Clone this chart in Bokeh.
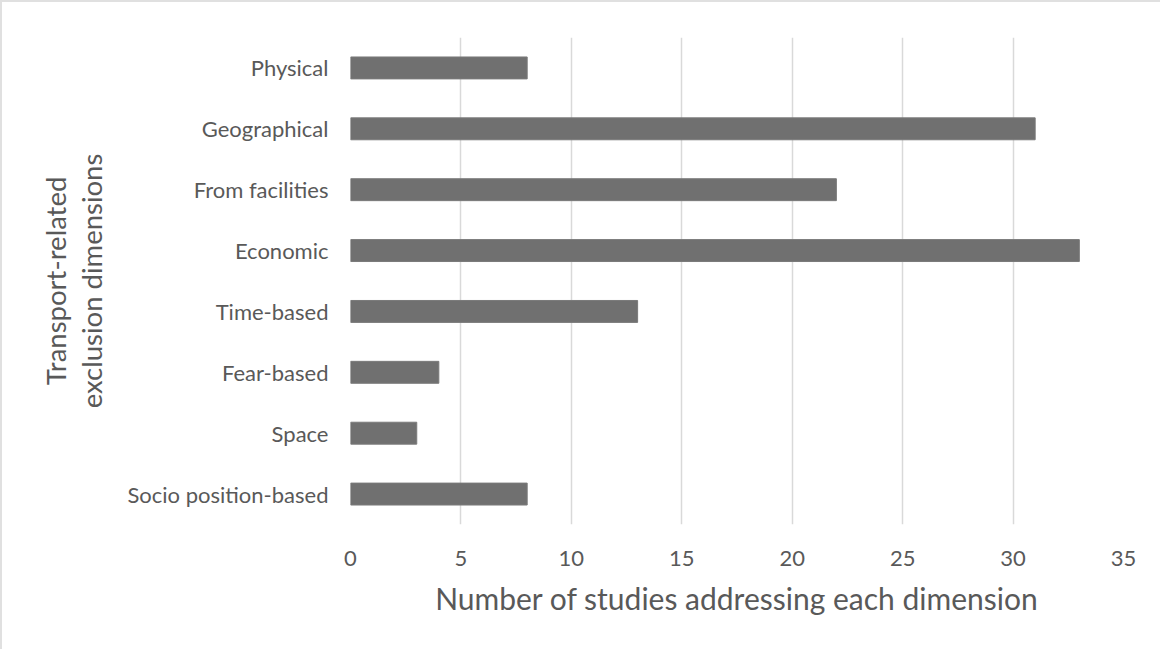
from bokeh.plotting import figure
from bokeh.models import FactorRange, Range1d, FixedTicker
from bokeh.embed import file_html
from bokeh.resources import INLINE

categories = ["Physical", "Geographical", "From facilities", "Economic",
              "Time-based", "Fear-based", "Space", "Socio position-based"]
counts = [8, 31, 22, 33, 13, 4, 3, 8]
x_ticks = [0, 5, 10, 15, 20, 25, 30, 35]

FONT = "Lato"
TXT = "#595959"

p = figure(width=1160, height=649,
           y_range=FactorRange(factors=categories[::-1]),
           x_range=Range1d(0, 35),
           output_backend="svg", toolbar_location=None,
           min_border_left=348, min_border_top=35,
           min_border_right=39, min_border_bottom=127)

p.hbar(y=categories, left=0, right=counts, height=0.36,
       fill_color="#707070", line_color="#7a7a7a", line_width=1)

p.outline_line_color = None
p.ygrid.grid_line_color = None
p.xgrid.ticker = FixedTicker(ticks=x_ticks)
p.xgrid.grid_line_color = "#d9d9d9"
p.xgrid.grid_line_width = 1.5

p.xaxis.ticker = FixedTicker(ticks=x_ticks)
for ax in (p.xaxis, p.yaxis):
    ax.axis_line_color = None
    ax.major_tick_line_color = None
    ax.minor_tick_line_color = None
    ax.major_label_text_font = FONT
    ax.major_label_text_color = TXT
    ax.major_label_text_font_size = "22px"
    ax.axis_label_text_font = FONT
    ax.axis_label_text_color = TXT
    ax.axis_label_text_font_style = "normal"

p.xaxis.axis_label = "Number of studies addressing each dimension"
p.xaxis.axis_label_text_font_size = "30px"
p.xaxis.major_label_standoff = 20
p.xaxis.axis_label_standoff = 11
p.yaxis.axis_label = "Transport-related\nexclusion dimensions"
p.yaxis.axis_label_text_font_size = "27.5px"
p.yaxis.axis_label_text_line_height = 1.1
p.yaxis.major_label_standoff = 16
p.yaxis.axis_label_standoff = 16

p.styles = {"border-top": "2px solid #e0e0e0", "border-left": "2px solid #e0e0e0"}

open("out.html", "w").write(file_html(p, INLINE))
